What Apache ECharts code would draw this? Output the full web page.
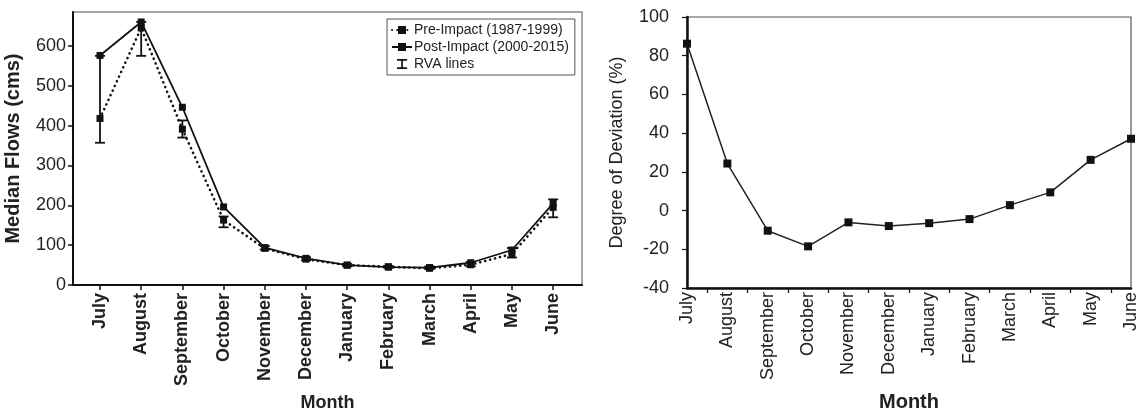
<!DOCTYPE html>
<html>
<head>
<meta charset="utf-8">
<script src="https://cdn.jsdelivr.net/npm/echarts@6/dist/echarts.min.js"></script>
<style>html,body{margin:0;padding:0;background:#fff}#c{width:1140px;height:417px}</style>
</head>
<body>
<div id="c"></div>
<script>
const months = ['July','August','September','October','November','December','January','February','March','April','May','June'];
const preImpact = [418, 645, 391, 163, 92, 65, 50, 46, 42, 51, 78, 195];
const postImpact = [576, 660, 446, 196, 94, 67, 50, 45, 44, 56, 88, 205];
const rvaLow = [357, 575, 370, 145, 89, 62, 47, 43, 40, 47, 69, 170];
const rvaHigh = [575, 660, 413, 172, 98, 70, 53, 48, 47, 58, 93, 215];
const deviation = [86.2, 24.3, -10.4, -18.5, -6.1, -8.0, -6.5, -4.4, 2.8, 9.4, 26.2, 37.1];
const leftYTicks = [0, 100, 200, 300, 400, 500, 600];

const FONT = "'Liberation Sans', Arial, sans-serif";
const idx = months.map((m, i) => i);
const midTicks = idx.slice(0, 11).map(i => i + 0.5);

const chart = echarts.init(document.getElementById('c'), null, {renderer: 'canvas'});
chart.setOption({
  backgroundColor: '#fff',
  animation: false,
  textStyle: {fontFamily: FONT, color: '#111'},
  legend: {
    left: 387, top: 19, width: 189, orient: 'vertical',
    padding: [4, 6, 4, 4], itemGap: 3, itemWidth: 20, itemHeight: 10,
    borderColor: '#555', borderWidth: 1, backgroundColor: '#fff',
    textStyle: {fontFamily: FONT, fontSize: 14, color: '#222', padding: [0, 0, 0, -3]},
    data: [
      {name: 'Pre-Impact (1987-1999)'},
      {name: 'Post-Impact (2000-2015)'},
      {name: 'RVA lines', icon: 'path://M0,0H12V2H7V10H12V12H0V10H5V2H0Z', itemStyle: {color: '#111'}}
    ]
  },
  grid: [
    {left: 73, top: 12, right: 558, bottom: 126, show: true, borderColor: '#8a8a8a', borderWidth: 1.5, backgroundColor: '#fff'},
    {left: 687, top: 17, right: 7, bottom: 128, show: true, borderColor: '#555', borderWidth: 1.2, backgroundColor: '#fff'}
  ],
  xAxis: [
    {
      gridIndex: 0, type: 'value', min: -0.655, max: 11.7,
      splitLine: {show: false},
      axisLine: {show: true, onZero: false, lineStyle: {color: '#111', width: 2}},
      axisTick: {show: true, length: 5, customValues: idx, lineStyle: {color: '#111', width: 1.5}},
      axisLabel: {
        customValues: idx, rotate: 90, margin: 8, fontFamily: FONT, fontSize: 18, fontWeight: 'bold', color: '#222',
        formatter: v => months[Math.round(v)]
      },
      name: 'Month', nameLocation: 'middle', nameGap: 106,
      nameTextStyle: {fontFamily: FONT, fontSize: 18, fontWeight: 'bold', color: '#222'}
    },
    {
      gridIndex: 1, type: 'value', min: 0, max: 11,
      splitLine: {show: false},
      axisLine: {show: true, onZero: false, lineStyle: {color: '#111', width: 2.5}},
      axisTick: {show: true, length: 5, customValues: midTicks, lineStyle: {color: '#111', width: 1.2}},
      axisLabel: {
        customValues: idx, rotate: 90, margin: 4, fontFamily: FONT, fontSize: 18, color: '#222',
        formatter: v => months[Math.round(v)]
      },
      name: 'Month', nameLocation: 'middle', nameGap: 104,
      nameTextStyle: {fontFamily: FONT, fontSize: 20, fontWeight: 'bold', color: '#222'}
    }
  ],
  yAxis: [
    {
      gridIndex: 0, type: 'value', min: 0, max: 685,
      splitLine: {show: false},
      axisLine: {show: true, onZero: false, lineStyle: {color: '#111', width: 2}},
      axisTick: {show: true, length: 5, customValues: leftYTicks, lineStyle: {color: '#111', width: 1.5}},
      axisLabel: {customValues: leftYTicks, margin: 7, fontFamily: FONT, fontSize: 18, color: '#222'},
      name: 'Median Flows (cms)', nameLocation: 'middle', nameGap: 50,
      nameTextStyle: {fontFamily: FONT, fontSize: 20, fontWeight: 'bold', color: '#222'}
    },
    {
      gridIndex: 1, type: 'value', min: -40, max: 100, interval: 20,
      splitLine: {show: false},
      axisLine: {show: true, onZero: false, lineStyle: {color: '#111', width: 2.5}},
      axisTick: {show: true, length: 5, lineStyle: {color: '#111', width: 1.2}},
      axisLabel: {margin: 18, fontFamily: FONT, fontSize: 18, color: '#222'},
      name: 'Degree of Deviation (%)', nameLocation: 'middle', nameGap: 61,
      nameTextStyle: {fontFamily: FONT, fontSize: 18, color: '#222'}
    }
  ],
  series: [
    {
      name: 'RVA lines', type: 'custom', xAxisIndex: 0, yAxisIndex: 0, z: 3,
      itemStyle: {color: '#111'},
      data: idx.map(i => [i, rvaLow[i], rvaHigh[i]]),
      renderItem: (params, api) => {
        const x = api.value(0);
        const p1 = api.coord([x, api.value(1)]);
        const p2 = api.coord([x, api.value(2)]);
        const w = 5;
        const st = {stroke: '#111', lineWidth: 1.8};
        return {type: 'group', children: [
          {type: 'line', shape: {x1: p1[0], y1: p1[1], x2: p2[0], y2: p2[1]}, style: st},
          {type: 'line', shape: {x1: p1[0] - w, y1: p1[1], x2: p1[0] + w, y2: p1[1]}, style: st},
          {type: 'line', shape: {x1: p2[0] - w, y1: p2[1], x2: p2[0] + w, y2: p2[1]}, style: st}
        ]};
      }
    },
    {
      name: 'Pre-Impact (1987-1999)', type: 'line', xAxisIndex: 0, yAxisIndex: 0, z: 4,
      data: idx.map(i => [i, preImpact[i]]),
      symbol: 'rect', symbolSize: 7,
      itemStyle: {color: '#111'},
      lineStyle: {color: '#111', width: 2.6, type: [0.1, 5], cap: 'round'}
    },
    {
      name: 'Post-Impact (2000-2015)', type: 'line', xAxisIndex: 0, yAxisIndex: 0, z: 5,
      data: idx.map(i => [i, postImpact[i]]),
      symbol: 'rect', symbolSize: 7,
      itemStyle: {color: '#111'},
      lineStyle: {color: '#111', width: 1.8}
    },
    {
      name: 'Degree of Deviation', type: 'line', xAxisIndex: 1, yAxisIndex: 1,
      data: idx.map(i => [i, deviation[i]]),
      symbol: 'rect', symbolSize: 8,
      itemStyle: {color: '#111'},
      lineStyle: {color: '#222', width: 1.5}
    }
  ]
});
</script>
</body>
</html>
